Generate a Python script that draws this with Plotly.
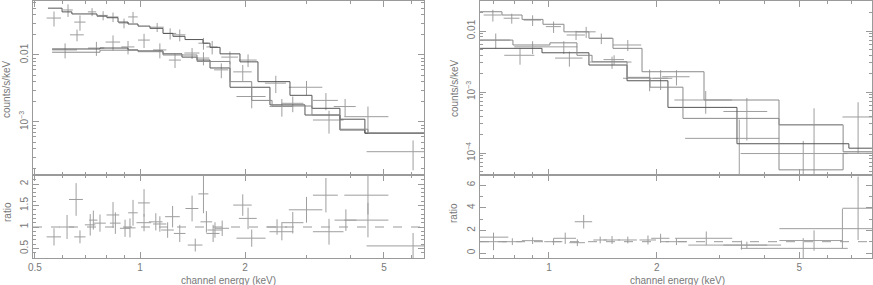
import plotly.graph_objects as go

# ---------------- Left panel: spectrum data (keV, counts/s/keV) ----------------
la_e = [0.567, 0.622, 0.673, 0.729, 0.784, 0.837, 0.900, 0.955, 1.12, 1.22, 1.30, 1.52, 1.61, 1.81, 2.04, 2.45, 3.00, 3.41, 3.87, 4.50]
la_de = [0.027, 0.020, 0.025, 0.020, 0.025, 0.030, 0.030, 0.030, 0.050, 0.050, 0.050, 0.050, 0.060, 0.100, 0.120, 0.170, 0.330, 0.280, 0.280, 0.650]
la_v = [0.0356, 0.047, 0.031, 0.044, 0.039, 0.037, 0.030, 0.037, 0.026, 0.021, 0.020, 0.015, 0.0132, 0.0093, 0.0084, 0.0038, 0.0033, 0.0021, 0.0017, 0.0012]
la_err = [0.009, 0.010, 0.008, 0.006, 0.006, 0.006, 0.005, 0.007, 0.004, 0.004, 0.004, 0.003, 0.003, 0.002, 0.0018, 0.0011, 0.0008, 0.0006, 0.0005, 0.0005]

lb_e = [0.61, 0.66, 0.75, 0.837, 0.924, 1.027, 1.14, 1.26, 1.41, 1.52, 1.71, 1.97, 2.09, 2.55, 2.74, 3.48, 6.06]
lb_de = [0.05, 0.03, 0.04, 0.04, 0.04, 0.04, 0.05, 0.05, 0.07, 0.06, 0.08, 0.12, 0.20, 0.20, 0.20, 0.35, 1.60]
lb_v = [0.0119, 0.020, 0.0127, 0.0156, 0.0132, 0.0167, 0.0119, 0.0084, 0.0107, 0.009, 0.006, 0.0056, 0.0024, 0.0017, 0.0019, 0.00107, 0.00036]
lb_err = [0.003, 0.004, 0.003, 0.004, 0.003, 0.004, 0.003, 0.002, 0.002, 0.002, 0.0015, 0.0015, 0.0008, 0.0005, 0.0005, 0.0004, 0.00017]

# Left panel model steps (bin edges, values)
lma_edges = [0.545, 0.598, 0.638, 0.753, 0.804, 0.865, 0.924, 0.987, 1.068, 1.164, 1.243, 1.346, 1.515, 1.587, 1.696, 1.934, 2.178, 2.69, 3.11, 3.74, 4.41, 6.5]
lma_vals = [0.050, 0.044, 0.041, 0.038, 0.036, 0.031, 0.029, 0.027, 0.025, 0.021, 0.019, 0.017, 0.015, 0.013, 0.0104, 0.0079, 0.0040, 0.0025, 0.0016, 0.0011, 0.00068]
lmb_edges = [0.560, 0.768, 0.924, 0.987, 1.164, 1.319, 1.457, 1.587, 1.811, 2.357, 2.97, 3.74, 4.41, 6.5]
lmb_vals = [0.0123, 0.0127, 0.0119, 0.0115, 0.0104, 0.0093, 0.0084, 0.0064, 0.0033, 0.0018, 0.00127, 0.00076, 0.00068]
lmc_edges = [0.560, 0.768, 0.987, 1.164, 1.457, 1.811, 2.09, 2.39, 3.11, 3.74, 4.5, 6.5]
lmc_vals = [0.0110, 0.0118, 0.0112, 0.0100, 0.0080, 0.0040, 0.0021, 0.00173, 0.00127, 0.00078, 0.00068]

# Left panel ratio
lr_e = [0.567, 0.618, 0.656, 0.673, 0.720, 0.735, 0.768, 0.837, 0.850, 0.906, 0.936, 0.955, 1.027, 1.027, 1.110, 1.140, 1.200, 1.240, 1.300, 1.410,
        1.440, 1.520, 1.550, 1.620, 1.640, 1.720, 1.970, 2.040, 2.090, 2.470, 2.550, 2.740, 3.000, 3.410, 3.480, 3.890, 4.500, 4.500, 6.060]
lr_de = [0.027, 0.030, 0.030, 0.025, 0.025, 0.020, 0.030, 0.035, 0.030, 0.030, 0.035, 0.030, 0.040, 0.050, 0.050, 0.050, 0.050, 0.060, 0.050, 0.060,
         0.070, 0.050, 0.060, 0.070, 0.080, 0.080, 0.120, 0.120, 0.200, 0.170, 0.200, 0.200, 0.330, 0.280, 0.350, 0.280, 0.650, 0.650, 1.600]
lr_r = [0.77, 1.00, 1.64, 0.77, 1.05, 1.16, 1.09, 1.28, 1.09, 0.97, 0.98, 1.33, 1.56, 1.10, 1.12, 1.07, 0.93, 1.24, 0.85, 1.43,
        0.58, 1.77, 1.12, 0.85, 0.93, 0.97, 1.51, 1.20, 0.74, 1.00, 0.89, 1.10, 1.40, 1.74, 0.89, 1.16, 1.74, 1.16, 0.56]
lr_err = [0.20, 0.28, 0.38, 0.15, 0.25, 0.22, 0.20, 0.30, 0.25, 0.20, 0.22, 0.30, 0.32, 0.20, 0.20, 0.18, 0.18, 0.25, 0.20, 0.30,
          0.15, 0.45, 0.25, 0.20, 0.18, 0.18, 0.25, 0.25, 0.20, 0.18, 0.20, 0.25, 0.30, 0.40, 0.30, 0.25, 0.45, 0.40, 0.30]

# ---------------- Right panel ----------------
ra_e = [0.697, 0.787, 0.900, 1.030, 1.270, 1.400, 1.660, 2.050, 2.740]
ra_de = [0.040, 0.040, 0.050, 0.050, 0.080, 0.100, 0.150, 0.100, 0.500]
ra_v = [0.0183, 0.0162, 0.0151, 0.0118, 0.0097, 0.0076, 0.0059, 0.00168, 0.00074]
ra_err = [0.004, 0.003, 0.003, 0.0025, 0.002, 0.0015, 0.0012, 0.0006, 0.0003]

rb_e = [0.710, 0.830, 0.900, 1.100, 1.140, 1.190, 1.500, 1.520, 1.910, 2.270, 3.570, 3.400, 5.130, 5.500, 7.300]
rb_de = [0.070, 0.080, 0.100, 0.100, 0.100, 0.070, 0.200, 0.100, 0.300, 0.200, 0.500, 1.000, 1.700, 1.100, 0.700]
rb_v = [0.0071, 0.0040, 0.0055, 0.0055, 0.0036, 0.0086, 0.0031, 0.0034, 0.00168, 0.00178, 0.00048, 0.000174, 0.000098, 0.00029, 0.00039]
rb_err = [0.002, 0.0012, 0.0013, 0.0013, 0.001, 0.0015, 0.0007, 0.0006, 0.00065, 0.0005, 0.00032, 0.00018, 0.00006, 0.00025, 0.00029]

rma_edges = [0.642, 0.739, 0.841, 0.962, 1.101, 1.293, 1.509, 1.819, 2.710, 4.39, 6.63, 7.98]
rma_vals = [0.0207, 0.0183, 0.0155, 0.0129, 0.0097, 0.0076, 0.0052, 0.00215, 0.00074, 0.00029, 0.000105]
rmb_edges = [0.642, 0.956, 1.293, 1.652, 2.149, 3.35, 6.88, 7.98]
rmb_vals = [0.0052, 0.0044, 0.00277, 0.00153, 0.00056, 0.000142, 0.00012]
rmc_edges = [0.642, 0.793, 1.006, 1.197, 1.319, 1.652, 1.915, 2.367, 4.39, 6.63, 7.98]
rmc_vals = [0.0071, 0.0059, 0.0064, 0.0040, 0.00314, 0.00174, 0.0012, 0.00037, 0.000053, 0.000099]

rr_e = [0.700, 0.700, 0.790, 0.900, 1.030, 1.110, 1.200, 1.250, 1.390, 1.500, 1.660, 1.890, 2.050, 2.270, 2.750, 3.450, 3.570, 5.130, 5.500, 6.600, 7.300]
rr_de = [0.060, 0.070, 0.050, 0.060, 0.060, 0.080, 0.060, 0.070, 0.060, 0.080, 0.100, 0.100, 0.120, 0.150, 0.500, 1.000, 0.500, 1.700, 1.100, 2.200, 0.700]
rr_r = [1.00, 1.40, 1.00, 1.09, 1.00, 1.30, 0.91, 2.76, 1.15, 1.15, 1.15, 1.15, 1.30, 1.00, 1.30, 0.70, 0.70, 0.41, 1.10, 2.15, 3.95]
rr_err = [0.75, 0.40, 0.30, 0.30, 0.30, 0.50, 0.30, 0.60, 0.30, 0.35, 0.30, 0.40, 0.40, 0.30, 0.60, 0.40, 0.30, 0.90, 0.90, 1.75, 2.80]

# tick labels
left_xticks = [0.5, 1, 2, 5]
right_xticks = [1, 2, 5]
left_yticks = [0.01, 0.001]
left_yticktext = ["0.01", "10<sup>−3</sup>"]
right_yticks = [0.01, 0.001, 0.0001]
right_yticktext = ["0.01", "10<sup>−3</sup>", "10<sup>−4</sup>"]
left_rticks = [0.5, 1, 1.5, 2]
right_rticks = [0, 2, 4, 6]

CROSS = "#9e9e9e"
AX = "#9a9a9a"
TXT = "#787878"
FONT = "Liberation Sans"

fig = go.Figure()


def crosses(x, dx, y, dy, xa, ya):
    fig.add_trace(go.Scatter(
        x=x, y=y, mode="markers", marker=dict(size=1, color=CROSS, opacity=0), xaxis=xa, yaxis=ya,
        error_x=dict(type="data", array=dx, color=CROSS, thickness=1, width=0),
        error_y=dict(type="data", array=dy, color=CROSS, thickness=1, width=0),
        showlegend=False, hoverinfo="skip"))


def steps(edges, vals, xa, ya, color):
    fig.add_trace(go.Scatter(
        x=edges, y=list(vals) + [vals[-1]], mode="lines", line=dict(shape="hv", color=color, width=1),
        xaxis=xa, yaxis=ya, showlegend=False, hoverinfo="skip"))


crosses(la_e, la_de, la_v, la_err, "x", "y")
crosses(lb_e, lb_de, lb_v, lb_err, "x", "y")
steps(lma_edges, lma_vals, "x", "y", "#555555")
steps(lmb_edges, lmb_vals, "x", "y", "#555555")
steps(lmc_edges, lmc_vals, "x", "y", "#8a8a8a")
crosses(lr_e, lr_de, lr_r, lr_err, "x2", "y2")

crosses(ra_e, ra_de, ra_v, ra_err, "x3", "y3")
crosses(rb_e, rb_de, rb_v, rb_err, "x3", "y3")
steps(rma_edges, rma_vals, "x3", "y3", "#8a8a8a")
steps(rmb_edges, rmb_vals, "x3", "y3", "#555555")
steps(rmc_edges, rmc_vals, "x3", "y3", "#8a8a8a")
crosses(rr_e, rr_de, rr_r, rr_err, "x4", "y4")

W, H = 873, 285
LX = [33 / W, 424 / W]
RX = [480 / W, 872 / W]
UY = [(H - 174.5) / H, (H - 1) / H]
DY = [(H - 258) / H, (H - 174.5) / H]

tickfont = dict(family=FONT, size=10, color=TXT)
base = dict(showline=True, linecolor=AX, linewidth=1, mirror="ticks", ticks="inside", ticklen=6,
            tickcolor=AX, tickwidth=1, showgrid=False, zeroline=False, tickfont=tickfont, automargin=False)

left_xminor = [0.6, 0.7, 0.8, 0.9, 3, 4, 6]
right_xminor = [0.7, 0.8, 0.9, 3, 4, 6, 7]
left_yminor = [0.0002, 0.0003, 0.0004, 0.0005, 0.0006, 0.0007, 0.0008, 0.0009,
               0.002, 0.003, 0.004, 0.005, 0.006, 0.007, 0.008, 0.009, 0.02, 0.03, 0.04, 0.05, 0.06]
right_yminor = [0.00005, 0.00006, 0.00007, 0.00008, 0.00009, 0.0002, 0.0003, 0.0004, 0.0005, 0.0006, 0.0007,
                0.0008, 0.0009, 0.002, 0.003, 0.004, 0.005, 0.006, 0.007, 0.008, 0.009, 0.02, 0.03]
left_rminor = [0.3, 0.4, 0.6, 0.7, 0.8, 0.9, 1.1, 1.2, 1.3, 1.4, 1.6, 1.7, 1.8, 1.9, 2.1, 2.2]
right_rminor = [1, 3, 5]

minor = dict(ticks="inside", ticklen=3, tickcolor=AX, tickwidth=1, showgrid=False)

fig.update_layout(
    width=W, height=H, margin=dict(l=0, r=0, t=0, b=0, autoexpand=False),
    paper_bgcolor="white", plot_bgcolor="white", showlegend=False,
    xaxis=dict(base, type="log", domain=LX, anchor="y", range=[-0.3066, 0.8138],
               tickvals=left_xticks, showticklabels=False, minor=dict(minor, tickvals=left_xminor)),
    yaxis=dict(base, type="log", domain=UY, anchor="x", range=[-3.784, -1.194],
               tickvals=left_yticks, ticktext=left_yticktext, tickangle=-90,
               minor=dict(minor, tickvals=left_yminor)),
    xaxis2=dict(base, type="log", domain=LX, anchor="y2", range=[-0.3066, 0.8138],
                tickvals=left_xticks, ticktext=[str(t) for t in left_xticks],
                minor=dict(minor, tickvals=left_xminor)),
    yaxis2=dict(base, domain=DY, anchor="x2", range=[0.279, 2.221], tickvals=left_rticks,
                ticktext=["0.5", "1", "1.5", "2"], tickangle=-90, minor=dict(minor, tickvals=left_rminor)),
    xaxis3=dict(base, type="log", domain=RX, anchor="y3", range=[-0.1927, 0.9022],
                tickvals=right_xticks, showticklabels=False, minor=dict(minor, tickvals=right_xminor)),
    yaxis3=dict(base, type="log", domain=UY, anchor="x3", range=[-4.352, -1.508],
                tickvals=right_yticks, ticktext=right_yticktext, tickangle=-90,
                minor=dict(minor, tickvals=right_yminor)),
    xaxis4=dict(base, type="log", domain=RX, anchor="y4", range=[-0.1927, 0.9022],
                tickvals=right_xticks, ticktext=[str(t) for t in right_xticks],
                minor=dict(minor, tickvals=right_xminor)),
    yaxis4=dict(base, domain=DY, anchor="x4", range=[-0.44, 6.93], tickvals=right_rticks,
                ticktext=[str(t) for t in right_rticks], tickangle=-90, minor=dict(minor, tickvals=right_rminor)),
)

# reference lines at ratio = 1
for xa, ya in (("x2", "y2"), ("x4", "y4")):
    fig.add_shape(type="line", xref=xa + " domain", yref=ya, x0=0, x1=1, y0=1, y1=1,
                  line=dict(color=AX, width=1, dash="dash"))

lab = dict(family=FONT, size=10, color=TXT)
fig.add_annotation(text="channel energy (keV)", x=228 / W, y=(H - 280) / H, xref="paper", yref="paper",
                   showarrow=False, font=lab, xanchor="center", yanchor="middle")
fig.add_annotation(text="channel energy (keV)", x=677 / W, y=(H - 280) / H, xref="paper", yref="paper",
                   showarrow=False, font=lab, xanchor="center", yanchor="middle")
fig.add_annotation(text="counts/s/keV", x=7 / W, y=(H - 89) / H, xref="paper", yref="paper",
                   showarrow=False, font=lab, textangle=-90, xanchor="center", yanchor="middle")
fig.add_annotation(text="counts/s/keV", x=455 / W, y=(H - 88) / H, xref="paper", yref="paper",
                   showarrow=False, font=lab, textangle=-90, xanchor="center", yanchor="middle")
fig.add_annotation(text="ratio", x=7 / W, y=(H - 212) / H, xref="paper", yref="paper",
                   showarrow=False, font=lab, textangle=-90, xanchor="center", yanchor="middle")
fig.add_annotation(text="ratio", x=453 / W, y=(H - 213) / H, xref="paper", yref="paper",
                   showarrow=False, font=lab, textangle=-90, xanchor="center", yanchor="middle")

fig.write_html("out.html", config={"displayModeBar": False, "staticPlot": True},
               post_script="document.body.style.margin='0';document.body.style.overflow='hidden';")
